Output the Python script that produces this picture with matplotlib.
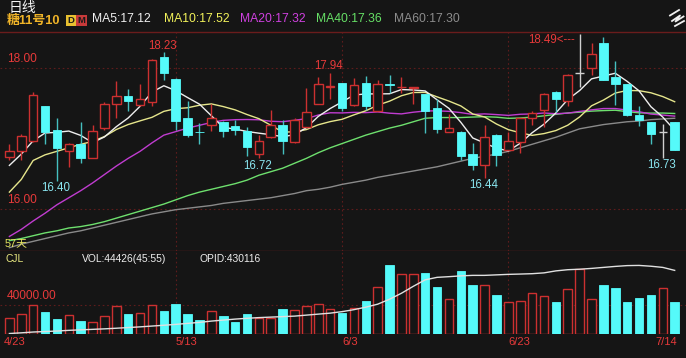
import numpy as np
import matplotlib
matplotlib.use("Agg")
import matplotlib.pyplot as plt
import matplotlib.transforms as mtransforms
from matplotlib.lines import Line2D

plt.rcParams['font.family'] = ['Liberation Sans', 'Noto Sans CJK SC', 'DejaVu Sans']

# ---------------- data ----------------
dates = ['4/23', '5/13', '6/3', '6/23', '7/14']
date_idx = [0, 14, 28, 42, 56]

opens = [16.74, 16.83, 16.96, 17.47, 17.12, 16.83, 16.92, 16.73, 17.15, 17.49,
         17.60, 17.48, 17.52, 18.16, 17.85, 17.29, 17.10, 17.19, 17.23, 17.18,
         17.11, 16.78, 17.02, 17.19, 16.95, 17.16, 17.49, 17.73, 17.79, 17.48,
         17.79, 17.40, 17.77, 17.73, 17.72, 17.63, 17.44, 17.10, 17.10, 16.78,
         16.63, 17.05, 16.84, 16.95, 17.30, 17.41, 17.67, 17.54, 17.93, 18.00,
         18.36, 17.88, 17.77, 17.33, 17.23, 17.10, 17.23]
highs = [16.92, 17.07, 17.66, 17.47, 17.29, 16.94, 17.24, 17.19, 17.52, 17.82,
         17.70, 17.78, 18.13, 18.23, 17.86, 17.53, 17.22, 17.49, 17.25, 17.26,
         17.16, 17.05, 17.41, 17.26, 17.29, 17.72, 17.87, 17.94, 17.79, 17.86,
         17.89, 17.83, 17.91, 17.87, 17.74, 17.64, 17.56, 17.35, 17.11, 16.94,
         17.20, 17.06, 17.10, 17.29, 17.39, 17.65, 17.68, 17.92, 18.49, 18.36,
         18.44, 18.11, 17.78, 17.46, 17.23, 17.21, 17.23]
lows = [16.69, 16.70, 16.95, 16.92, 16.40, 16.60, 16.65, 16.72, 17.13, 17.30,
        17.39, 17.46, 17.46, 17.83, 17.13, 17.02, 16.92, 17.11, 17.03, 17.05,
        16.76, 16.72, 17.01, 16.78, 16.94, 17.16, 17.49, 17.56, 17.39, 17.47,
        17.41, 17.40, 17.65, 17.65, 17.49, 17.08, 17.08, 17.10, 16.69, 16.56,
        16.44, 16.61, 16.84, 16.80, 17.20, 17.16, 17.38, 17.46, 17.74, 17.90,
        17.83, 17.48, 17.32, 17.18, 16.92, 16.73, 16.84]
closes = [16.83, 17.04, 17.62, 17.09, 16.87, 16.92, 16.73, 17.11, 17.49, 17.60,
          17.54, 17.56, 18.12, 17.94, 17.25, 17.05, 17.09, 17.30, 17.11, 17.13,
          16.88, 16.97, 17.19, 16.97, 17.27, 17.38, 17.77, 17.75, 17.44, 17.76,
          17.46, 17.77, 17.76, 17.74, 17.73, 17.39, 17.14, 17.15, 16.75, 16.62,
          17.03, 16.77, 16.96, 17.29, 17.37, 17.64, 17.57, 17.91, 17.93, 18.20,
          17.84, 17.77, 17.33, 17.26, 17.07, 17.10, 16.84]

volumes = [21600, 27100, 39500, 30300, 21200, 25700, 18400, 16100, 24400, 38200,
           27600, 28500, 39500, 31300, 40900, 28000, 19300, 31300, 24800, 16100,
           27100, 22100, 22100, 34900, 32600, 38600, 40900, 34900, 29400, 35400,
           45100, 64400, 95200, 82300, 82800, 84100, 64400, 48300, 86400, 68000,
           67600, 53300, 44100, 45500, 56600, 52900, 44100, 61600, 89200, 48700,
           68000, 63900, 44100, 49700, 53800, 63500, 44426]

open_interest = [328500, 329600, 330900, 331700, 332500, 333600, 334400, 335200, 336000, 337000,
                 338100, 339200, 340500, 341800, 343200, 344800, 346400, 348500, 350100, 351700,
                 353000, 354100, 354900, 355700, 356500, 358100, 359700, 361300, 363700, 366900,
                 370900, 375700, 383700, 393300, 404500, 414900, 418900, 420000, 421300, 422100,
                 422100, 422900, 423700, 424200, 424800, 426100, 429300, 431200, 432000, 433300,
                 434900, 436500, 437800, 438100, 436800, 434900, 430116]

# moving-average values before enough bars exist in the window
ma5_head = [16.62, 16.78, 16.97, 17.08]
ma10_head = [16.24, 16.42, 16.69, 16.77, 16.82, 16.87, 16.92, 16.96, 17.03]
ma20_head = [15.61, 15.71, 15.83, 15.94, 16.06, 16.16, 16.26, 16.37, 16.49, 16.61,
             16.72, 16.82, 16.94, 17.05, 17.10, 17.15, 17.19, 17.23, 17.26]
ma40_head = [15.55, 15.58, 15.62, 15.66, 15.69, 15.73, 15.75, 15.78, 15.82, 15.87,
             15.92, 15.97, 16.02, 16.07, 16.13, 16.19, 16.24, 16.28, 16.32, 16.36,
             16.41, 16.48, 16.53, 16.58, 16.65, 16.72, 16.80, 16.87, 16.93, 16.99,
             17.05, 17.10, 17.15, 17.19, 17.24, 17.29, 17.30, 17.30, 17.30]
ma60_vals = [15.45, 15.50, 15.54, 15.58, 15.62, 15.66, 15.69, 15.73, 15.77, 15.81,
             15.85, 15.89, 15.93, 15.96, 15.99, 16.01, 16.03, 16.05, 16.08, 16.10,
             16.12, 16.14, 16.16, 16.19, 16.22, 16.26, 16.28, 16.31, 16.35, 16.38,
             16.41, 16.45, 16.48, 16.51, 16.54, 16.57, 16.60, 16.64, 16.68, 16.72,
             16.75, 16.78, 16.82, 16.87, 16.92, 16.97, 17.02, 17.08, 17.14, 17.17,
             17.20, 17.22, 17.24, 17.25, 17.27, 17.28, 17.29]

hi_label_idx = [13, 27]
lo_label_idx = [4, 21, 40, 55]
arrow_label_idx = 48

# ---------------- style ----------------
BG = '#151515'
RED = '#cc3030'
RED_TXT = '#e83a3a'
CYAN = '#55fafa'
CYAN_WICK = '#45c0c0'
CYAN_TXT = '#8ae6f0'
GRID = '#5e1c1c'
BORDER = '#6a1c1c'
W, H = 686, 358


def ma(values, n, head):
    out = []
    for i in range(len(values)):
        if i >= n - 1:
            out.append(float(np.mean(values[i - n + 1:i + 1])))
        else:
            out.append(head[i])
    return out


ma5 = ma(closes, 5, ma5_head)
ma10 = ma(closes, 10, ma10_head)
ma20 = ma(closes, 20, ma20_head)
ma40 = ma(closes, 40, ma40_head)

n = len(closes)
x = np.arange(n)

fig = plt.figure(figsize=(W / 100, H / 100), dpi=100, facecolor=BG)


def fy(py):
    return 1 - py / H


# axes placement in pixels
PT, PB = 32.0, 250.5
VT, VB = 250.5, 334.0
ax = fig.add_axes([0, fy(PB), 1, (PB - PT) / H])
axv = fig.add_axes([0, fy(VB), 1, (VB - VT) / H])
for a in (ax, axv):
    a.set_facecolor(BG)
    a.set_xlim(-0.791, 56.953)
    a.set_xticks([])
    a.set_yticks([])
    for s in a.spines.values():
        s.set_visible(False)
for side in ('top', 'bottom'):
    ax.spines[side].set_visible(True)
    ax.spines[side].set_color(BORDER)
    ax.spines[side].set_linewidth(1.0)

ax.set_ylim(15.410, 18.516)
axv.set_ylim(0, 115172)

# grid lines
for lvl in (18.0, 16.0):
    ax.axhline(lvl, color=GRID, lw=0.8, ls=(0, (1.5, 2.5)), zorder=0)
axv.axhline(40000, color=GRID, lw=0.8, ls=(0, (1.5, 2.5)), zorder=0)
for di in date_idx[1:4]:
    ax.axvline(di, color=GRID, lw=0.8, ls=(0, (1.5, 2.5)), zorder=0)
    axv.axvline(di, color=GRID, lw=0.8, ls=(0, (1.5, 2.5)), zorder=0)

# MA lines
ax.plot(x, ma60_vals, color='#8a8a8a', lw=1.0, zorder=2)
ax.plot(x, ma40, color='#6ee06e', lw=1.0, zorder=2)
ax.plot(x, ma20, color='#c03cd0', lw=1.0, zorder=2)
ax.plot(x, ma10, color='#e6e68c', lw=1.0, zorder=2)
ax.plot(x, ma5, color='#eeeeee', lw=1.0, zorder=2)

# candles
BW = 0.72
for i in range(n):
    o, h, l, c = opens[i], highs[i], lows[i], closes[i]
    if c == o:
        col = '#d0d0d0'
        ax.vlines(i, l, h, color=col, lw=1.0, zorder=3)
        ax.hlines(c, i - BW / 2, i + BW / 2, color=col, lw=1.0, zorder=3)
    elif c > o:
        ax.vlines(i, c, h, color=RED, lw=1.0, zorder=3)
        ax.vlines(i, l, o, color=RED, lw=1.0, zorder=3)
        ax.bar(i, c - o, bottom=o, width=BW, facecolor=BG, edgecolor=RED, lw=1.0, zorder=4)
    else:
        ax.vlines(i, l, h, color=CYAN_WICK, lw=1.0, zorder=3)
        ax.bar(i, o - c, bottom=c, width=BW, facecolor=CYAN, edgecolor=CYAN, lw=0.6, zorder=4)

# price labels
blend_p = mtransforms.blended_transform_factory(ax.transAxes, ax.transData)
ax.text(7 / W, 18.0 + 0.045, '18.00', transform=blend_p, color=RED_TXT, fontsize=8.6, ha='left', va='bottom')
ax.text(7 / W, 16.0 + 0.045, '16.00', transform=blend_p, color=RED_TXT, fontsize=8.6, ha='left', va='bottom')

for i in hi_label_idx:
    ax.text(i - 0.1, highs[i] + 0.005, f'{highs[i]:.2f}', color=RED_TXT, fontsize=8.3,
            ha='center', va='bottom', zorder=6)
ax.text(arrow_label_idx - 0.4, highs[arrow_label_idx], f'{highs[arrow_label_idx]:.2f}<---', color=RED_TXT,
        fontsize=8.3, ha='right', va='top', zorder=6)
for i in lo_label_idx:
    ax.text(i - 0.1, lows[i] - 0.02, f'{lows[i]:.2f}', color=CYAN_TXT, fontsize=8.3,
            ha='center', va='top', zorder=6)

ax.text(5 / W, 2 / (PB - PT), '57天', transform=ax.transAxes, color='#e8e860', fontsize=7.8,
        ha='left', va='bottom', zorder=6)

# volume bars
for i in range(n):
    if closes[i] >= opens[i]:
        axv.bar(i, volumes[i], width=BW, facecolor=BG, edgecolor=RED, lw=1.0, zorder=3)
    else:
        axv.bar(i, volumes[i], width=BW, facecolor=CYAN, edgecolor=CYAN, lw=0.6, zorder=3)

axoi = axv.twinx()
axoi.set_xlim(-0.791, 56.953)
axoi.set_ylim(327716, 462116)
axoi.axis('off')
axoi.plot(x, open_interest, color='#e0e0e0', lw=1.0, zorder=5)

blend_v = mtransforms.blended_transform_factory(axv.transAxes, axv.transData)
axv.text(7 / W, 40000 + 4500, '40000.00', transform=blend_v, color=RED_TXT, fontsize=8.6,
         ha='left', va='bottom', zorder=6)

# volume header
fig.text(6 / W, fy(259), 'CJL', color='#e8e880', fontsize=7.4, ha='left', va='center')
fig.text(82 / W, fy(259), 'VOL:44426(45:55)', color='#eeeeee', fontsize=7.4, ha='left', va='center')
fig.text(199 / W, fy(259), 'OPID:430116', color='#eeeeee', fontsize=7.4, ha='left', va='center')

# date labels
blend_d = mtransforms.blended_transform_factory(axv.transData, axv.transAxes)
for di, d in zip(date_idx, dates):
    if di == date_idx[-1]:
        axv.text(di + 0.2, -0.1, d, transform=blend_d, color=RED_TXT, fontsize=8, ha='right', va='center')
    elif di == 0:
        axv.text(di - 0.45, -0.1, d, transform=blend_d, color=RED_TXT, fontsize=8, ha='left', va='center')
    else:
        axv.text(di, -0.1, d, transform=blend_d, color=RED_TXT, fontsize=8, ha='left', va='center')

# header
fig.text(9 / W, fy(8.0), '日线', color='#f4f4f4', fontsize=10, ha='left', va='center')
fig.text(7 / W, fy(20.5), '糖11号10', color='#f0b428', fontsize=9.3, ha='left', va='center', fontweight='bold')
fig.text(67.5 / W, fy(20.5), 'D', color='#1a1a1a', fontsize=6.8, ha='left', va='center', fontweight='bold',
         bbox=dict(boxstyle='square,pad=0.15', fc='#e8c030', ec='none'))
fig.text(77.5 / W, fy(20.5), 'M', color='#1a1a1a', fontsize=6.8, ha='left', va='center', fontweight='bold',
         bbox=dict(boxstyle='square,pad=0.15', fc='#c83a3a', ec='none'))
ma_texts = [('MA5:17.12', '#f0f0f0', 92), ('MA10:17.52', '#f2f25a', 164), ('MA20:17.32', '#d040e0', 240),
            ('MA40:17.36', '#66e066', 316), ('MA60:17.30', '#8c8c8c', 394)]
for t, c, px in ma_texts:
    fig.text(px / W, fy(19), t, color=c, fontsize=8.7, ha='left', va='center')

# small icon at top-right
for seg in ([(670, 15.5), (679, 10)], [(672, 21), (680, 15.5), (675.5, 21.5), (683.5, 16.5)],
            [(675, 26), (684, 21)]):
    xs = [p[0] / W for p in seg]
    ys = [fy(p[1]) for p in seg]
    fig.add_artist(Line2D(xs, ys, color='#f0f0f0', lw=1.3, transform=fig.transFigure))

fig.savefig('out.png', dpi=100, facecolor=BG)
